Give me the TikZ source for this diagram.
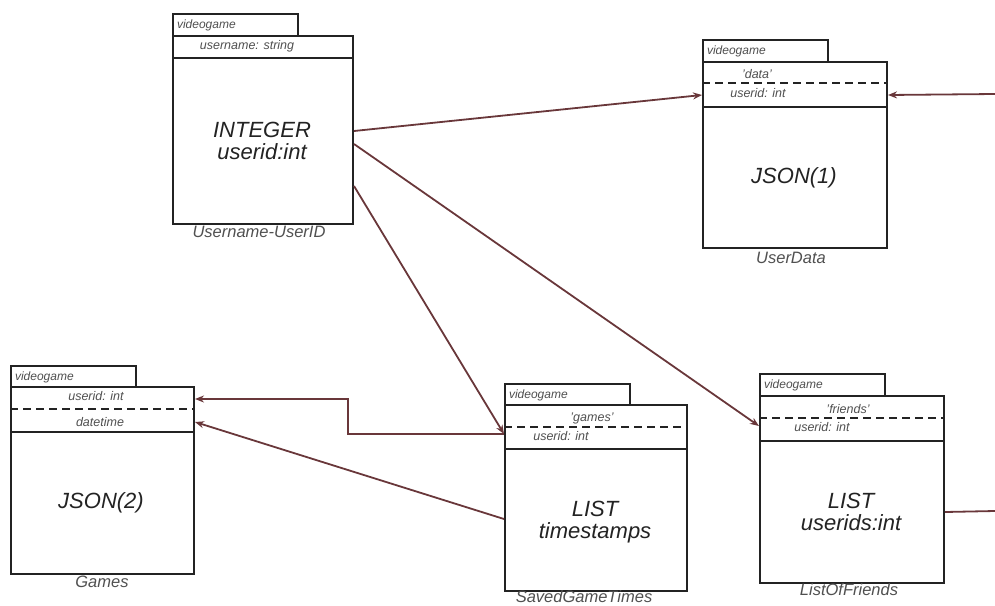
\documentclass[tikz,border=0pt]{standalone}
\usepackage{fontspec}
\setmainfont{Liberation Sans}
\usetikzlibrary{arrows.meta}

\definecolor{edge}{RGB}{105,55,58}
\definecolor{ink}{RGB}{35,35,35}
\definecolor{soft}{RGB}{80,80,80}

\tikzset{
  frame/.style={draw=ink, line width=2pt, fill=white, inner sep=0pt, anchor=north west},
  tabbox/.style={frame, minimum height=22pt, text width=117pt, inner xsep=4pt,
    align=left, font=\fontsize{12}{14}\selectfont\itshape, text=soft},
  small/.style={font=\fontsize{12.5}{14}\selectfont\itshape, text=soft, inner sep=0pt},
  big/.style={font=\fontsize{22}{21.5}\selectfont\itshape, text=ink, align=center, inner sep=0pt},
  caption/.style={font=\fontsize{16.5}{18}\selectfont\itshape, text=soft, inner sep=0pt},
  sepline/.style={draw=ink, line width=2.2pt, dash pattern=on 8pt off 5pt},
  wire/.style={draw=edge, line width=1.8pt},
  link/.style={wire, -{Stealth[length=9pt,width=7pt]}},
}

\begin{document}
\begin{tikzpicture}[x=1pt, y=-1pt]
\useasboundingbox (0,0) rectangle (995,605);

% ---- Username-UserID ----
\node[tabbox] (uidt) at (172,13) {videogame};
\node[frame, minimum width=180pt, minimum height=22pt] (uidh) at (172,35) {};
\node[frame, minimum width=180pt, minimum height=166pt] (uidb) at (172,57) {};
\node[small] at (247,46) {username: string};
\node[big] at (262,141) {INTEGER\\userid:int};
\node[caption] at (259,232) {Username-UserID};

% ---- UserData ----
\node[tabbox] (udt) at (702,39) {videogame};
\node[frame, minimum width=184pt, minimum height=45pt] (udh) at (702,61) {};
\node[frame, minimum width=184pt, minimum height=141pt] (udb) at (702,106) {};
\draw[sepline] (udh.west |- 0,83) -- (udh.east |- 0,83);
\node[small] at (757,74) {'data'};
\node[small] at (758,93) {userid: int};
\node[big] at (794,178) {JSON(1)};
\node[caption] at (791,258) {UserData};

% ---- Games ----
\node[tabbox] (gamt) at (10,365) {videogame};
\node[frame, minimum width=183pt, minimum height=45pt] (gamh) at (10,386) {};
\node[frame, minimum width=183pt, minimum height=142pt] (gamb) at (10,431) {};
\draw[sepline] (gamh.west |- 0,409) -- (gamh.east |- 0,409);
\node[small] at (96,396) {userid: int};
\node[small] at (100,422) {datetime};
\node[big] at (101,503) {JSON(2)};
\node[caption] at (102,582) {Games};

% ---- SavedGameTimes ----
\node[tabbox] (sgtt) at (504,383) {videogame};
\node[frame, minimum width=182pt, minimum height=44pt] (sgth) at (504,404) {};
\node[frame, minimum width=182pt, minimum height=142pt] (sgtb) at (504,448) {};
\draw[sepline] (sgth.west |- 0,427) -- (sgth.east |- 0,427);
\node[small] at (592,418) {'games'};
\node[small] at (561,436) {userid: int};
\node[big] at (595,522) {LIST\\timestamps};
\node[caption] at (584,597) {SavedGameTimes};

% ---- ListOfFriends ----
\node[tabbox] (loft) at (759,373) {videogame};
\node[frame, minimum width=184pt, minimum height=45pt] (lofh) at (759,395) {};
\node[frame, minimum width=184pt, minimum height=142pt] (lofb) at (759,440) {};
\draw[sepline] (lofh.west |- 0,418) -- (lofh.east |- 0,418);
\node[small] at (848,409) {'friends'};
\node[small] at (822,427) {userid: int};
\node[big] at (851,512) {LIST\\userids:int};
\node[caption] at (849,590) {ListOfFriends};

% ---- connectors ----
\coordinate (offA) at (995,94);
\coordinate (offB) at (995,511);

\draw[link] ([yshift=10pt]uidb.east) -- ([yshift=-10.5pt]udh.west);
\draw[link] ([yshift=-3pt]uidb.east) -- ([yshift=-7.5pt]lofh.west);
\draw[link] ([yshift=-45pt]uidb.east) -- ([yshift=-7pt]sgth.west);
\draw[link] ([yshift=-7pt]sgth.west) -- ++(-156,0) |- ([yshift=10.5pt]gamh.east);
\draw[link] ([yshift=1pt]sgtb.west) -- ([yshift=-12.5pt]gamh.east);
\draw[link] (offA) -- ([yshift=-10.5pt]udh.east);
\draw[wire] (lofb.east) -- (offB);
\end{tikzpicture}
\end{document}
